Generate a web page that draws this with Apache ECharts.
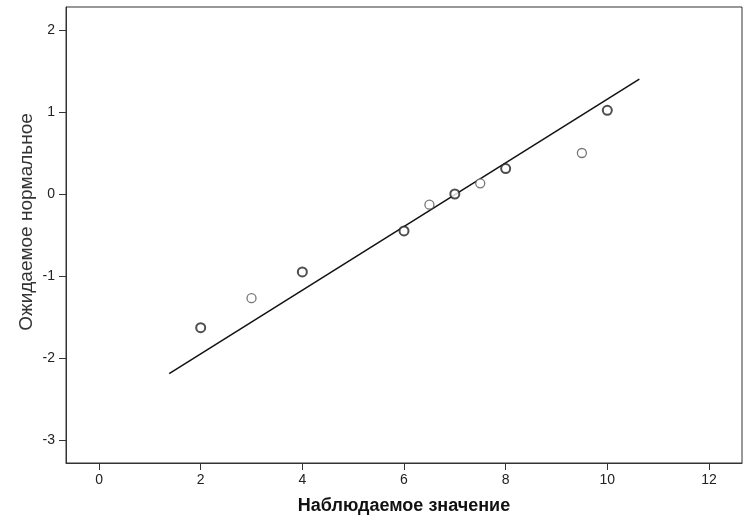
<!DOCTYPE html>
<html><head><meta charset="utf-8">
<script src="https://cdn.jsdelivr.net/npm/echarts@6/dist/echarts.min.js"></script>
<style>html,body{margin:0;padding:0;background:#fff}#c{width:747px;height:520px}</style>
</head><body><div id="c"></div>
<script>
const observed = [2, 3, 4, 6, 6.5, 7, 7.5, 8, 9.5, 10];
const expectedNormal = [-1.63, -1.27, -0.95, -0.45, -0.13, 0.0, 0.13, 0.31, 0.50, 1.02];
const caseCounts = [2, 1, 2, 2, 1, 2, 1, 2, 1, 2];
const lineX = [1.38, 10.63];
const lineY = [-2.19, 1.40];
const xTicks = [0, 2, 4, 6, 8, 10, 12];
const yTicks = [-3, -2, -1, 0, 1, 2];
const xTitle = 'Наблюдаемое значение';
const yTitle = 'Ожидаемое нормальное';

const chart = echarts.init(document.getElementById('c'), null, {renderer: 'canvas'});
const font = '"Liberation Sans", Arial, sans-serif';
chart.setOption({
  animation: false,
  backgroundColor: '#fff',
  grid: {left: 66, top: 7, right: 5, bottom: 57, show: true, borderColor: '#333', borderWidth: 1},
  xAxis: {
    type: 'value', min: -0.65, max: 12.65,
    splitLine: {show: false},
    axisLine: {show: true, onZero: false, lineStyle: {color: '#333'}},
    axisTick: {show: true, length: 7, lineStyle: {color: '#333'}, customValues: xTicks},
    axisLabel: {color: '#222', fontSize: 14, fontFamily: font, margin: 10, customValues: xTicks},
    name: xTitle, nameLocation: 'middle', nameGap: 34,
    nameTextStyle: {fontSize: 18, fontWeight: 'bold', color: '#111', fontFamily: font}
  },
  yAxis: {
    type: 'value', min: -3.28, max: 2.28,
    splitLine: {show: false},
    axisLine: {show: true, onZero: false, lineStyle: {color: '#333'}},
    axisTick: {show: true, length: 7, lineStyle: {color: '#333'}, customValues: yTicks},
    axisLabel: {color: '#222', fontSize: 14, fontFamily: font, margin: 11, customValues: yTicks}
  },
  graphic: [{
    type: 'text', x: 27, y: 222, rotation: Math.PI / 2,
    style: {text: yTitle, font: '19px ' + font, fill: '#333', align: 'center', verticalAlign: 'middle'}
  }],
  series: [{
    type: 'line',
    data: lineX.map((x, i) => [x, lineY[i]]),
    symbol: 'none',
    lineStyle: {color: '#111', width: 1.5},
    z: 2
  }, {
    type: 'scatter',
    data: observed.map((x, i) => ({
      value: [x, expectedNormal[i]],
      itemStyle: {borderWidth: caseCounts[i] > 1 ? 2 : 1.3, borderColor: caseCounts[i] > 1 ? '#222' : '#555'}
    })),
    symbol: 'circle', symbolSize: 9,
    itemStyle: {color: '#fff'},
    z: 3
  }]
});
</script></body></html>
